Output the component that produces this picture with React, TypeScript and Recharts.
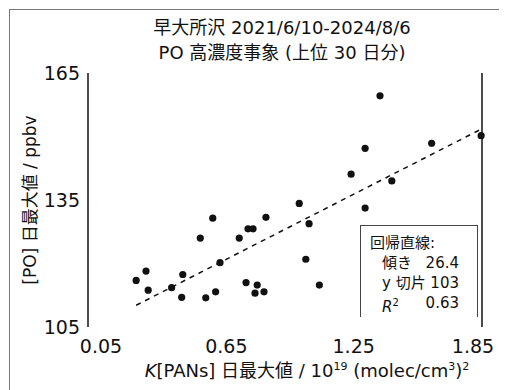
import { ReferenceLine, Scatter, ScatterChart, XAxis, YAxis } from "recharts";

const titleLines = ["早大所沢 2021/6/10-2024/8/6", "PO 高濃度事象 (上位 30 日分)"];
const xTicks = [0.05, 0.65, 1.25, 1.85];
const yTicks = [105, 135, 165];

// K[PANs] daily max (10^19 (molec/cm3)^2) vs [PO] daily max (ppbv), top 30 days
const kPans = [
  0.27, 0.315, 0.325, 0.432, 0.483, 0.478, 0.563, 0.62, 0.588, 0.633,
  0.653, 0.741, 0.781, 0.804, 0.772, 0.823, 0.813, 0.854, 0.863, 1.015,
  1.06, 1.045, 1.107, 1.316, 1.252, 1.316, 1.384, 1.438, 1.62, 1.846,
];
const poMax = [
  116.0, 118.2, 113.7, 114.3, 117.4, 112.0, 126.0, 130.7, 111.9, 113.3,
  120.2, 126.0, 128.2, 128.2, 115.5, 114.9, 113.0, 113.3, 130.9, 134.2,
  129.4, 121.0, 114.9, 133.1, 141.1, 147.2, 159.6, 139.5, 148.4, 150.2,
];

const slope = 26.4;
const intercept = 103;
const r2 = 0.63;
const fitRange = [0.27, 1.85];

const points = kPans.map((x, i) => ({ x, y: poMax[i] }));
const fitSegment = fitRange.map((x) => ({ x, y: intercept + slope * x }));

const font = '"DejaVu Sans", "Noto Sans CJK JP", sans-serif';
const ink = "#111";

function XTick({ x, y, payload, index }: any) {
  const shift = [13, 7, 3, -9][index] ?? 0;
  return (
    <text x={x + shift} y={y + 18} textAnchor="middle" fontSize={19} fill={ink} fontFamily={font}>
      {Number(payload.value).toFixed(2)}
    </text>
  );
}

function Dot({ cx, cy }: any) {
  return <circle cx={cx} cy={cy} r={3.6} fill={ink} />;
}

export default function App() {
  return (
    <div style={{ position: "relative", width: 499, height: 382, overflow: "hidden", fontFamily: font, color: ink }}>
      <div style={{ position: "absolute", left: 1, top: 1, right: 0, bottom: 0, borderLeft: "1.5px solid #777", borderTop: "1.5px solid #777" }} />

      <div style={{ position: "absolute", left: 74, top: 7, width: 400, textAlign: "center", fontSize: 18, lineHeight: "25px" }}>
        {titleLines.map((t) => (
          <div key={t}>{t}</div>
        ))}
      </div>

      <ScatterChart width={499} height={382} margin={{ top: 65, right: 25, bottom: 33, left: 0 }}>
        <XAxis
          type="number"
          dataKey="x"
          domain={[0.05, 1.85]}
          ticks={xTicks}
          axisLine={false}
          tickLine={false}
          height={30}
          tick={<XTick />}
        />
        <YAxis
          type="number"
          dataKey="y"
          domain={[105, 165]}
          ticks={yTicks}
          width={80}
          axisLine={{ stroke: ink, strokeWidth: 1.5 }}
          tickLine={false}
          tick={{ fontSize: 19, fill: ink, fontFamily: font }}
        />
        <ReferenceLine x={1.85} stroke={ink} strokeWidth={1.5} />
        <ReferenceLine segment={fitSegment} stroke={ink} strokeWidth={1.5} strokeDasharray="5 5" />
        <Scatter data={points} shape={<Dot />} isAnimationActive={false} />
      </ScatterChart>

      <div
        style={{
          position: "absolute",
          left: 20,
          top: 192,
          transform: "translate(-50%, -50%) rotate(-90deg)",
          whiteSpace: "nowrap",
          fontSize: 17,
        }}
      >
        [PO] 日最大値 / ppbv
      </div>

      <div
        style={{
          position: "absolute",
          left: 299,
          top: 361,
          transform: "translate(-50%, -50%)",
          whiteSpace: "nowrap",
          fontSize: 18,
        }}
      >
        <i>K</i>[PANs] 日最大値 / 10<sup style={{ fontSize: 11 }}>19</sup> (molec/cm<sup style={{ fontSize: 11 }}>3</sup>)
        <sup style={{ fontSize: 11 }}>2</sup>
      </div>

      <div
        style={{
          position: "absolute",
          left: 352,
          top: 217,
          width: 118,
          height: 92,
          borderTop: "1.5px solid #444",
          borderLeft: "1.5px solid #444",
          borderRight: "1.5px solid #444",
          fontSize: 15,
          lineHeight: "20px",
          padding: "7px 0 0 0",
          boxSizing: "border-box",
        }}
      >
        <div style={{ paddingLeft: 9 }}>回帰直線:</div>
        {[
          ["傾き", slope.toFixed(1)],
          ["y 切片", String(intercept)],
        ].map(([k, v]) => (
          <div key={k} style={{ display: "flex", justifyContent: "space-between", marginLeft: 21, marginRight: 18 }}>
            <span>{k}</span>
            <span>{v}</span>
          </div>
        ))}
        <div style={{ display: "flex", justifyContent: "space-between", marginLeft: 21, marginRight: 18 }}>
          <span>
            <i>R</i>
            <sup style={{ fontSize: 10 }}>2</sup>
          </span>
          <span>{r2.toFixed(2)}</span>
        </div>
      </div>
    </div>
  );
}
